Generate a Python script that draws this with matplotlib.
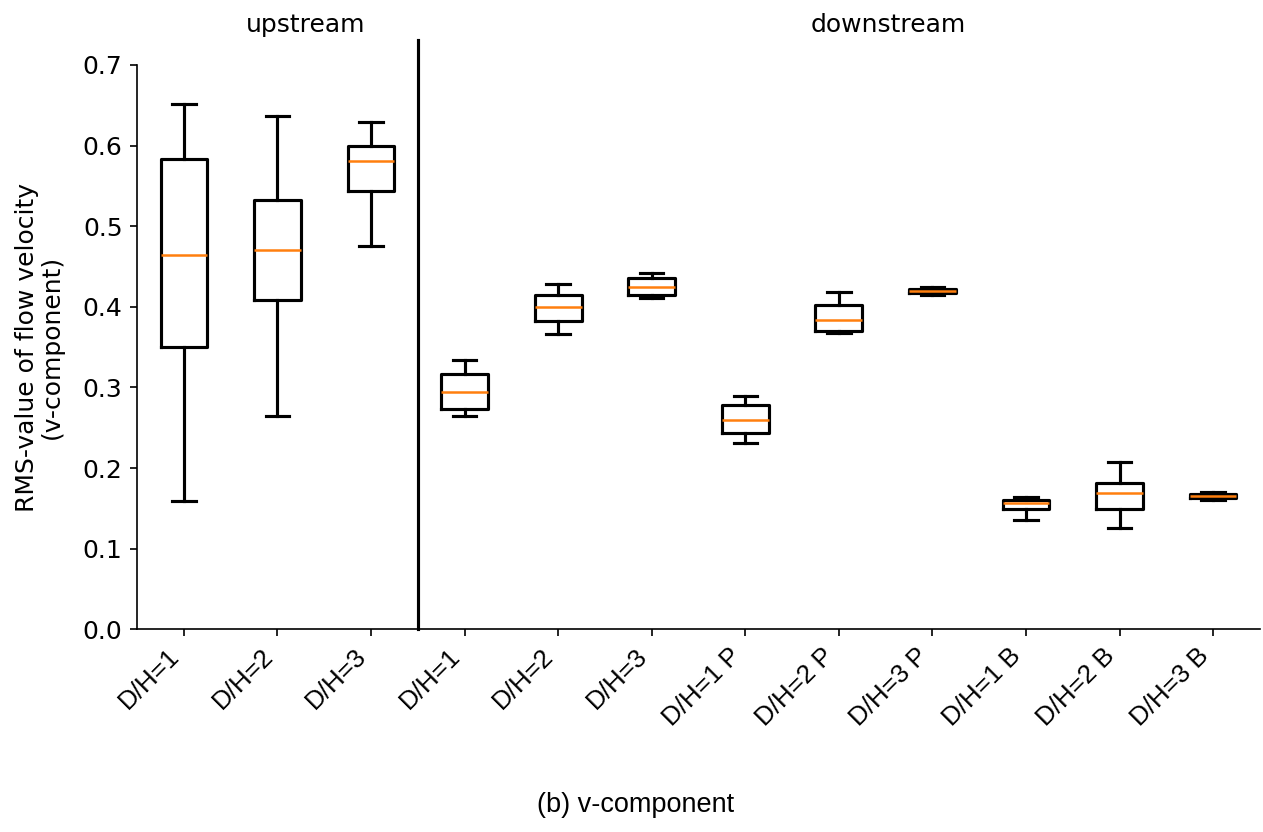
import matplotlib
matplotlib.use("Agg")
import matplotlib.pyplot as plt

# box statistics per case (RMS of v-component)
labels = ["D/H=1", "D/H=2", "D/H=3",
          "D/H=1", "D/H=2", "D/H=3",
          "D/H=1 P", "D/H=2 P", "D/H=3 P",
          "D/H=1 B", "D/H=2 B", "D/H=3 B"]
whislo = [0.159, 0.265, 0.475, 0.264, 0.366, 0.411, 0.231, 0.368, 0.415, 0.136, 0.125, 0.160]
q1 = [0.350, 0.408, 0.544, 0.273, 0.382, 0.414, 0.244, 0.370, 0.417, 0.149, 0.149, 0.163]
med = [0.464, 0.471, 0.581, 0.294, 0.400, 0.425, 0.259, 0.384, 0.420, 0.157, 0.169, 0.165]
q3 = [0.583, 0.533, 0.599, 0.316, 0.414, 0.436, 0.278, 0.402, 0.422, 0.160, 0.182, 0.168]
whishi = [0.651, 0.637, 0.629, 0.334, 0.428, 0.442, 0.289, 0.418, 0.424, 0.164, 0.207, 0.170]

stats = [
    dict(label=lab, whislo=lo, q1=a, med=m, q3=b, whishi=hi, fliers=[])
    for lab, lo, a, m, b, hi in zip(labels, whislo, q1, med, q3, whishi)
]

fig = plt.figure(figsize=(8.42, 5.547), dpi=150)
ax = fig.add_axes([0.1086, 0.2437, 0.8889, 0.6782])

ax.bxp(
    stats,
    boxprops=dict(color="black", lw=1.5),
    whiskerprops=dict(color="black", lw=1.5),
    capprops=dict(color="black", lw=1.5),
    medianprops=dict(color="#ff7f0e", lw=1.2),
)

ax.set_xlim(0.5, 12.5)
ax.set_ylim(0, 0.7)
ax.spines["top"].set_visible(False)
ax.spines["right"].set_visible(False)
ax.tick_params(labelsize=12)
ax.set_xticklabels(labels, rotation=45, ha="right",
                   fontfamily="Liberation Sans", fontsize=12.5)
ax.set_ylabel("RMS-value of flow velocity\n(v-component)", fontsize=12,
              labelpad=9, linespacing=1.05)

# separator between upstream and downstream groups
ax.plot([3.5, 3.5], [0, 0.731], color="black", lw=1.5, clip_on=False)
ax.text(2.3, 0.75, "upstream", ha="center", va="center", fontsize=12)
ax.text(8.53, 0.75, "downstream", ha="center", va="center", fontsize=12)

fig.text(0.503, 0.0325, "(b) v-component", ha="center", va="center",
         fontfamily="Liberation Sans", fontsize=13)

fig.savefig("out.png", dpi=150)
